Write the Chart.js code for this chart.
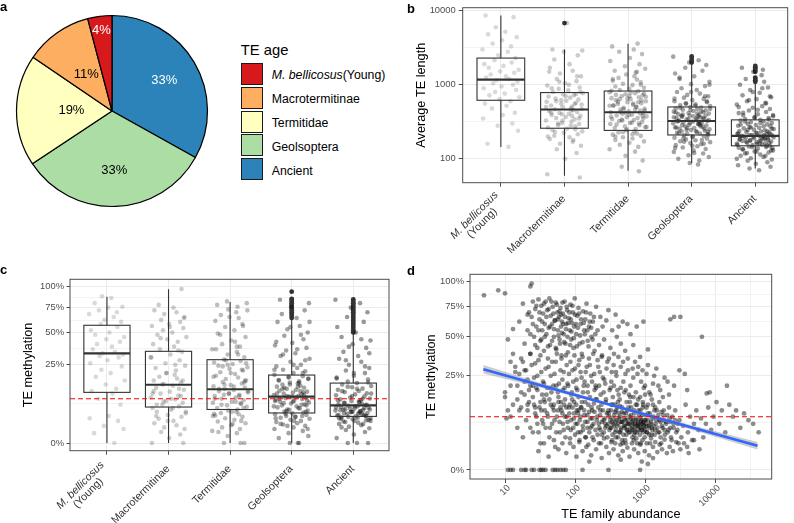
<!DOCTYPE html>
<html><head><meta charset="utf-8">
<script src="https://cdn.jsdelivr.net/npm/chart.js@4.4.0/dist/chart.umd.min.js"></script>
<style>
html,body{margin:0;padding:0;background:#fff;}
#wrap{position:relative;width:794px;height:523px;overflow:hidden;font-family:"Liberation Sans",Arial,Helvetica,sans-serif;background:#fff;}
canvas{position:absolute;}
.plab{position:absolute;font-weight:bold;font-size:13px;line-height:13px;color:#000;}
.lgtitle{position:absolute;left:240.7px;top:43px;font-size:14.8px;line-height:14.8px;color:#000;white-space:nowrap;}
.key{position:absolute;left:240.7px;width:20px;height:20px;border:1px solid #1a1a1a;}
.klab{position:absolute;left:271.7px;height:22px;line-height:22px;font-size:12.3px;color:#000;white-space:nowrap;}
</style></head>
<body><div id="wrap">
<canvas id="pie" width="224" height="222" style="left:0;top:0"></canvas>
<canvas id="cb" width="394" height="262" style="left:400px;top:0"></canvas>
<canvas id="cc" width="400" height="273" style="left:0;top:250px"></canvas>
<canvas id="cd" width="394" height="273" style="left:400px;top:250px"></canvas>
<div class="plab" style="left:0;top:-0.5px">a</div>
<div class="plab" style="left:407px;top:1.7px">b</div>
<div class="plab" style="left:0;top:263px">c</div>
<div class="plab" style="left:407px;top:264px">d</div>
<div id="legend"></div>
</div>
<script>
// ---------------- DATA ----------------
const categories = ['M. bellicosus (Young)', 'Macrotermitinae', 'Termitidae', 'Geolsoptera', 'Ancient'];
const categoryTickLabels = [['M. bellicosus', '(Young)'], 'Macrotermitinae', 'Termitidae', 'Geolsoptera', 'Ancient'];
const legendTitle = 'TE age';
const pieShares = [4.1, 11.4, 18.8, 32.6, 33.1];           // % per category (legend order)
const ageColors = ['#D7191C', '#FDAE61', '#FFFFBF', '#ABDDA4', '#2B83BA'];

// panel b: average TE length (log scale)
const lengthTicks = [100, 1000, 10000];
const lengthQ1 = [618, 259, 242, 210, 150];
const lengthMedian = [1175, 463, 426, 325, 204];
const lengthQ3 = [2296, 785, 824, 502, 336];
const lengthWhiskerLow = [145, 59, 69, 87, 74];
const lengthWhiskerHigh = [8650, 3006, 3590, 1993, 1072];
const lengthOutliers = [[], [6810], [], [2000, 2100, 2250, 2420], [1100, 1150, 1200, 1250, 1500, 1580, 1650, 1720, 1800]];
const lengthYoung = [145, 160, 240, 280, 300, 350, 390, 420, 480, 520, 560, 600, 640, 680, 720, 760, 800, 850, 900, 950, 1000, 1050, 1100, 1150, 1200, 1250, 1300, 1380, 1450, 1520, 1600, 1700, 1800, 1900, 2000, 2150, 2300, 2500, 2800, 3000, 3300, 3600, 4000, 4400, 4800, 5200, 6000, 8200, 8650];
const lengthMacro = [56, 62, 100, 120, 135, 150, 160, 170, 185, 195, 205, 215, 225, 235, 245, 255, 265, 275, 285, 295, 305, 318, 330, 342, 355, 368, 380, 392, 405, 418, 430, 442, 455, 468, 480, 495, 510, 525, 540, 555, 570, 590, 610, 630, 650, 670, 695, 720, 745, 770, 800, 840, 880, 920, 980, 1050, 1120, 1200, 1300, 1420, 1550, 1700, 1900, 2200, 2500, 2800, 2900, 3000, 6810,
  200, 250, 300, 350, 400, 450, 500, 550, 600, 700, 800, 900, 1000, 1100, 1300, 1500, 180, 230, 280, 330, 380, 420, 470, 620, 750];
const lengthTermitidae = [68, 78, 95, 110, 125, 135, 145, 155, 165, 172, 180, 188, 196, 204, 212, 220, 228, 236, 244, 252, 260, 268, 276, 285, 295, 305, 315, 325, 335, 345, 355, 365, 375, 385, 395, 405, 415, 425, 438, 450, 462, 475, 490, 505, 520, 535, 550, 565, 580, 600, 620, 640, 660, 680, 700, 720, 745, 770, 795, 820, 850, 880, 910, 950, 990, 1030, 1080, 1130, 1180, 1240, 1300, 1380, 1460, 1550, 1650, 1780, 1900, 2100, 2300, 2600, 2800, 3000, 3300, 3600,
  250, 270, 290, 310, 330, 350, 370, 390, 410, 430, 450, 470, 500, 530, 560, 590, 620, 650, 690, 730, 780, 830, 300, 340, 380, 420, 460, 520, 580, 640, 700, 760, 200, 215, 230, 1000, 1200, 1500];
const lengthGeolsoptera = [84, 88, 95, 100, 106, 112, 118, 124, 130, 136, 142, 148, 153, 158, 163, 168, 173, 178, 183, 188, 193, 198, 203, 208, 212, 216, 220, 225, 230, 235, 240, 245, 250, 255, 260, 265, 270, 276, 282, 288, 294, 300, 306, 312, 318, 324, 330, 336, 342, 348, 355, 362, 369, 376, 384, 392, 400, 408, 416, 425, 434, 443, 452, 462, 472, 482, 492, 502, 515, 530, 545, 560, 580, 600, 620, 645, 670, 700, 730, 760, 800, 850, 900, 960, 1020, 1100, 1200, 1300, 1420, 1550, 1700, 1850, 2000, 2150, 2400,
  180, 190, 200, 215, 225, 235, 245, 255, 265, 275, 285, 295, 305, 315, 325, 335, 345, 355, 365, 375, 385, 395, 410, 425, 440, 455, 470, 490, 520, 560, 600, 650, 150, 160, 170, 230, 260, 290, 320, 350, 380, 700, 800, 1000, 1250, 120, 140];
const lengthAncient = [70, 74, 78, 82, 86, 90, 94, 98, 102, 106, 110, 114, 118, 122, 126, 130, 134, 138, 141, 144, 147, 150, 153, 156, 159, 162, 165, 168, 171, 174, 177, 180, 183, 186, 189, 192, 195, 198, 201, 204, 207, 210, 214, 218, 222, 226, 230, 234, 238, 243, 248, 253, 258, 263, 268, 274, 280, 286, 292, 298, 305, 312, 320, 328, 336, 345, 355, 365, 375, 388, 400, 415, 430, 450, 470, 490, 515, 540, 570, 600, 640, 680, 720, 780, 850, 920, 1000, 1100, 1200, 1350, 1500, 1600, 1700,
  140, 145, 150, 155, 160, 165, 170, 175, 180, 185, 190, 195, 200, 205, 210, 215, 220, 225, 235, 245, 255, 265, 275, 290, 305, 320, 340, 360, 390, 420, 460, 500, 560, 620, 700, 800, 900, 100, 110, 120, 125, 130, 135, 160, 175, 190, 200, 210];

// panel c: TE methylation (fraction, sqrt scale)
const methTicks = [0, 0.25, 0.5, 0.75, 1];
const methQ1 = [0.105, 0.053, 0.046, 0.037, 0.029];
const methMedian = [0.329, 0.139, 0.118, 0.088, 0.058];
const methQ3 = [0.567, 0.344, 0.284, 0.189, 0.147];
const methWhiskerLow = [0, 0, 0, 0, 0];
const methWhiskerHigh = [0.876, 0.967, 0.814, 0.637, 0.493];
const methOutliers = [[], [], [], [0.64, 0.66, 0.68, 0.7, 0.72, 0.74, 0.76, 0.78, 0.8, 0.82, 0.84, 0.85, 0.937], [0.5, 0.52, 0.54, 0.56, 0.58, 0.6, 0.62, 0.64, 0.66, 0.68, 0.7, 0.72, 0.74, 0.76, 0.78, 0.8, 0.82, 0.845]];
const methThreshold = 0.08;
const methYoung = [0, 0.004, 0.008, 0.012, 0.02, 0.025, 0.03, 0.06, 0.08, 0.1, 0.11, 0.12, 0.14, 0.16, 0.18, 0.2, 0.22, 0.24, 0.26, 0.28, 0.3, 0.31, 0.32, 0.33, 0.34, 0.36, 0.38, 0.4, 0.42, 0.44, 0.46, 0.48, 0.5, 0.52, 0.55, 0.58, 0.6, 0.62, 0.65, 0.68, 0.7, 0.72, 0.75, 0.76, 0.8, 0.86, 0.88];
const methMacro = [0, 0, 0.001, 0.003, 0.005, 0.008, 0.01, 0.013, 0.016, 0.02, 0.024, 0.028, 0.032, 0.036, 0.04, 0.045, 0.05, 0.055, 0.06, 0.066, 0.072, 0.078, 0.085, 0.092, 0.1, 0.108, 0.116, 0.125, 0.134, 0.142, 0.15, 0.16, 0.17, 0.18, 0.19, 0.2, 0.215, 0.23, 0.245, 0.26, 0.28, 0.3, 0.32, 0.34, 0.36, 0.38, 0.4, 0.42, 0.44, 0.46, 0.48, 0.5, 0.52, 0.54, 0.56, 0.58, 0.6, 0.62, 0.65, 0.68, 0.7, 0.72, 0.75, 0.78, 0.97,
  0.02, 0.04, 0.06, 0.08, 0.1, 0.12, 0.14, 0.16, 0.2, 0.25, 0.3, 0.35, 0.45, 0.55, 0.64, 0.03, 0.05, 0.07, 0.09, 0.11];
const methTermitidae = [0, 0, 0, 0.002, 0.004, 0.006, 0.008, 0.01, 0.013, 0.016, 0.019, 0.022, 0.025, 0.028, 0.031, 0.034, 0.037, 0.04, 0.043, 0.046, 0.05, 0.054, 0.058, 0.062, 0.066, 0.07, 0.075, 0.08, 0.085, 0.09, 0.095, 0.1, 0.105, 0.11, 0.115, 0.12, 0.126, 0.132, 0.138, 0.145, 0.152, 0.16, 0.168, 0.176, 0.185, 0.195, 0.205, 0.215, 0.225, 0.235, 0.245, 0.255, 0.265, 0.275, 0.285, 0.3, 0.32, 0.34, 0.36, 0.38, 0.4, 0.43, 0.46, 0.49, 0.52, 0.55, 0.58, 0.61, 0.64, 0.67, 0.7, 0.73, 0.76, 0.78, 0.8, 0.82,
  0.02, 0.03, 0.04, 0.05, 0.06, 0.07, 0.08, 0.09, 0.1, 0.11, 0.12, 0.13, 0.14, 0.16, 0.18, 0.2, 0.22, 0.24, 0.26, 0.28, 0.32, 0.36, 0.42, 0.48, 0.56, 0.65, 0.72, 0.005, 0.015, 0.035, 0.065, 0.095, 0.15, 0.25, 0.38];
const methGeolsoptera = [0, 0, 0, 0.001, 0.002, 0.004, 0.006, 0.008, 0.01, 0.012, 0.014, 0.016, 0.018, 0.02, 0.022, 0.024, 0.026, 0.028, 0.03, 0.032, 0.034, 0.036, 0.038, 0.04, 0.043, 0.046, 0.049, 0.052, 0.055, 0.058, 0.061, 0.064, 0.067, 0.07, 0.073, 0.076, 0.079, 0.082, 0.085, 0.088, 0.091, 0.094, 0.097, 0.1, 0.104, 0.108, 0.112, 0.116, 0.12, 0.125, 0.13, 0.135, 0.14, 0.145, 0.15, 0.156, 0.162, 0.168, 0.175, 0.182, 0.19, 0.2, 0.21, 0.22, 0.23, 0.24, 0.25, 0.27, 0.29, 0.31, 0.33, 0.35, 0.37, 0.39, 0.41, 0.44, 0.47, 0.5, 0.53, 0.56, 0.6, 0.64, 0.68, 0.72, 0.76, 0.8, 0.84,
  0.02, 0.025, 0.03, 0.035, 0.04, 0.045, 0.05, 0.055, 0.06, 0.065, 0.07, 0.075, 0.08, 0.085, 0.09, 0.095, 0.1, 0.11, 0.12, 0.13, 0.14, 0.15, 0.16, 0.17, 0.18, 0.2, 0.22, 0.25, 0.28, 0.32, 0.36, 0.42, 0.48, 0.55, 0.6, 0.015, 0.028, 0.042, 0.058, 0.072, 0.088, 0.105, 0.125, 0.008, 0.012];
const methAncient = [0, 0, 0, 0.001, 0.003, 0.005, 0.007, 0.009, 0.011, 0.013, 0.015, 0.017, 0.019, 0.021, 0.023, 0.025, 0.027, 0.029, 0.031, 0.033, 0.035, 0.037, 0.039, 0.041, 0.043, 0.045, 0.047, 0.049, 0.051, 0.053, 0.055, 0.057, 0.059, 0.061, 0.063, 0.066, 0.069, 0.072, 0.075, 0.078, 0.081, 0.085, 0.089, 0.093, 0.097, 0.101, 0.106, 0.111, 0.116, 0.121, 0.127, 0.133, 0.14, 0.147, 0.155, 0.165, 0.175, 0.185, 0.2, 0.215, 0.23, 0.25, 0.27, 0.29, 0.31, 0.34, 0.37, 0.4, 0.43, 0.46, 0.5, 0.55, 0.6, 0.65, 0.7, 0.75, 0.8, 0.84,
  0.015, 0.018, 0.02, 0.022, 0.024, 0.026, 0.028, 0.03, 0.032, 0.034, 0.036, 0.038, 0.04, 0.042, 0.044, 0.046, 0.048, 0.05, 0.052, 0.055, 0.06, 0.065, 0.07, 0.075, 0.08, 0.09, 0.1, 0.11, 0.12, 0.13, 0.15, 0.17, 0.2, 0.24, 0.28, 0.33, 0.38, 0.44, 0.025, 0.035, 0.045, 0.03, 0.04, 0.02, 0.01];

// panel d: TE family abundance vs methylation [abundance, methylation]
const abundanceTicks = [10, 100, 1000, 10000];
const abundanceMethylation = [
[5,0.86],[8,0.91],[10,0.88],[23,0.95],[24,0.98],
[11,0.48],[12,0.33],[13,0.56],[12,0.2],[14,0.27],[11,0.1],[10,0.17],[13,0.38],[10,0.15],[10.5,0.075],
[11,0],[12,0],[13,0],[17,0],[19,0],[20,0],[24,0],[26,0],[31,0],[33,0],[35,0],[38,0],[48,0],[52,0],[56,0],[62,0],[68,0],[74,0],[128,0],[300,0],[850,0],[1100,0.001],
[16,0.62],[18,0.78],[19,0.45],[21,0.55],[22,0.7],[23,0.38],[24,0.66],[25,0.8],
[26,0.5],[27,0.73],[28,0.58],[29,0.42],[30,0.82],[31,0.64],[32,0.47],[33,0.76],[34,0.55],[35,0.69],[36,0.4],[37,0.6],[38,0.8],[39,0.52],[40,0.72],
[42,0.57],[43,0.83],[44,0.44],[45,0.67],[47,0.6],[48,0.75],[50,0.5],[51,0.63],[53,0.79],[54,0.41],[56,0.7],[57,0.55],[59,0.66],[60,0.48],[62,0.74],[63,0.58],[64,0.37],[65,0.62],
[67,0.69],[69,0.52],[71,0.8],[73,0.45],[75,0.6],[77,0.72],[79,0.39],[81,0.65],[84,0.55],[86,0.77],[88,0.48],[90,0.61],[93,0.7],[95,0.42],[97,0.58],[99,0.83],
[104,0.52],[108,0.67],[112,0.74],[116,0.45],[120,0.6],[125,0.38],[130,0.71],[135,0.55],[140,0.64],[146,0.78],[152,0.47],[158,0.58],
[165,0.69],[172,0.5],[180,0.62],[190,0.4],[200,0.75],[210,0.55],[220,0.44],[230,0.66],[240,0.36],[248,0.58],
[260,0.48],[280,0.63],[300,0.72],[320,0.42],[340,0.55],[360,0.38],[380,0.68],[395,0.5],
[420,0.58],[450,0.45],[480,0.62],[520,0.4],[560,0.6],[620,0.52],[680,0.44],
[760,0.58],[850,0.36],[950,0.62],[1100,0.41],[2300,0.64],[2600,0.66],[3200,0.66],[6500,0.5],
[21,0.68],[23,0.52],[25,0.6],[27,0.44],[28,0.76],[30,0.55],[31,0.7],[33,0.48],[34,0.62],[36,0.78],[37,0.5],[39,0.66],[41,0.43],[42,0.73],[44,0.58],[46,0.8],[47,0.47],[49,0.69],[50,0.56],[52,0.63],[53,0.42],[55,0.77],[57,0.64],[58,0.51],[60,0.71],[61,0.45],[63,0.68],[65,0.53],[66,0.79],[68,0.6],[70,0.46],[72,0.66],[74,0.56],[76,0.75],[78,0.5],[80,0.61],[83,0.7],[85,0.44],[87,0.64],[89,0.54],[92,0.76],[96,0.49],[100,0.68],[103,0.6],[106,0.43],[110,0.57],[114,0.69],[118,0.51],[122,0.64],[128,0.46],[133,0.61],[138,0.52],[144,0.7],[150,0.55],[156,0.43],[162,0.62],[170,0.57],[178,0.48],[186,0.66],[195,0.52],
[14,0.3],[15,0.2],[16,0.26],[17,0.17],[18,0.33],[19,0.22],[20,0.28],[22,0.18],[24,0.31],[26,0.24],[28,0.19],[30,0.34],[33,0.27],[36,0.21],[39,0.16],[42,0.3],[45,0.25],[49,0.2],[53,0.33],[57,0.17],[62,0.28],[66,0.23],[71,0.19],[76,0.31],[82,0.26],[88,0.16],[94,0.22],[100,0.29],[108,0.18],[115,0.34],[124,0.24],[133,0.2],[142,0.27],[152,0.17],[163,0.31],[175,0.22],[188,0.26],[200,0.19],[215,0.3],[232,0.16],[250,0.24],[270,0.21],[290,0.33],[312,0.18],[335,0.27],[360,0.2],[390,0.25],[420,0.16],[450,0.3],[490,0.22],[530,0.18],[570,0.28],[620,0.2],[680,0.24],[740,0.17],[800,0.3],[880,0.22],[960,0.19],[1050,0.26],[1150,0.17],[1300,0.21],[1450,0.29],[1650,0.18],[1900,0.24],[2200,0.16],[2600,0.2],[3100,0.28],[3700,0.26],[4000,0.18],[7600,0.165],[8400,0.17],[14800,0.2],
[17,0.35],[19,0.28],[21,0.23],[23,0.38],[25,0.2],[27,0.32],[29,0.25],[32,0.37],[35,0.22],[38,0.29],[41,0.35],[44,0.19],[47,0.33],[51,0.26],[55,0.38],[59,0.21],[64,0.35],[69,0.27],[74,0.37],[80,0.2],[86,0.33],[92,0.28],[98,0.37],[105,0.23],[112,0.31],[120,0.27],[128,0.36],[137,0.22],[147,0.3],[158,0.35],[170,0.25],[182,0.38],[196,0.2],[210,0.34],[226,0.27],[244,0.37],[262,0.23],[282,0.29],[305,0.35],[330,0.22],[356,0.31],[385,0.27],[416,0.36],[450,0.19],[486,0.33],[525,0.26],[568,0.35],[615,0.15],[665,0.29],[720,0.33],[780,0.26],[850,0.15],[920,0.28],[1000,0.2],[1100,0.31],[1200,0.16],[1350,0.25],[1550,0.2],[1800,0.15],[2100,0.22],
[15,0.14],[17,0.11],[19,0.16],[21,0.12],[23,0.2],[25,0.15],[27,0.11],[29,0.18],[32,0.13],[34,0.16],[37,0.1],[40,0.19],[43,0.14],[46,0.17],[50,0.12],[54,0.2],[58,0.15],[62,0.11],[67,0.18],[72,0.14],[78,0.21],[84,0.12],[90,0.17],[97,0.13],[104,0.19],[112,0.15],[121,0.11],[130,0.17],[140,0.13],[151,0.2],[163,0.15],[176,0.1],[190,0.18],[205,0.14],[221,0.2],[238,0.12],[257,0.17],[277,0.14],[299,0.1],[322,0.19],[347,0.15],[374,0.12],[403,0.18],[435,0.14],[469,0.11],[506,0.17],[546,0.13],[589,0.16],[635,0.11],[685,0.15],[739,0.12],[797,0.14],[860,0.1],[928,0.13],[1000,0.16],[1100,0.12],[1250,0.14],[1400,0.11],[1600,0.13],[1850,0.1],
[12,0.08],[13,0.12],[15,0.05],[16,0.1],[18,0.03],[20,0.07],[22,0.13],[25,0.04],[27,0.09],[29,0.06],
[31,0.11],[32,0.02],[34,0.07],[36,0.14],[38,0.05],[40,0.09],[43,0.03],[45,0.12],[47,0.06],[50,0.1],[52,0.015],[55,0.08],[58,0.13],[61,0.04],[64,0.1],[67,0.06],[70,0.12],[73,0.03],[76,0.08],[79,0.05],
[21,0.1],[23,0.05],[26,0.12],[28,0.08],[30,0.04],[33,0.1],[35,0.06],[37,0.13],[41,0.08],[44,0.05],[48,0.11],[51,0.07],[54,0.04],[57,0.1],[60,0.065],[63,0.13],[66,0.09],[69,0.045],[72,0.08],[75,0.11],[78,0.065],[83,0.09],[87,0.045],[92,0.11],[96,0.075],
[82,0.11],[85,0.02],[88,0.07],[91,0.14],[94,0.05],[97,0.09],[100,0.035],[104,0.12],[108,0.06],[112,0.1],[116,0.025],[120,0.08],[125,0.13],[130,0.045],[135,0.1],[140,0.065],[145,0.015],[150,0.085],[155,0.12],[160,0.04],[166,0.075],[172,0.11],[178,0.03],[184,0.06],[190,0.095],[196,0.14],[150,0.05],[120,0.04],[175,0.055],[110,0.09],
[102,0.06],[106,0.1],[111,0.04],[117,0.07],[123,0.11],[129,0.055],[136,0.085],[143,0.03],[151,0.065],[159,0.095],[167,0.05],[176,0.075],[186,0.125],[196,0.045],[207,0.08],[218,0.06],[230,0.1],[243,0.035],[256,0.07],[270,0.05],[285,0.09],[300,0.06],
[205,0.07],[210,0.035],[215,0.11],[222,0.05],[228,0.085],[235,0.02],[242,0.065],[250,0.1],[258,0.04],[266,0.075],[274,0.13],[282,0.055],[290,0.03],[300,0.09],[310,0.045],[320,0.07],[330,0.12],[340,0.025],[350,0.06],[362,0.085],[374,0.04],[386,0.1],[398,0.055],[410,0.03],[424,0.075],[438,0.115],[452,0.045],[466,0.065],[480,0.02],[495,0.09],[510,0.05],[526,0.07],[542,0.035],[558,0.1],[575,0.06],[590,0.04],[600,0.08],[230,0.045],[270,0.06],[330,0.05],[380,0.065],[440,0.04],[500,0.055],[560,0.045],[420,0.09],
[310,0.08],[318,0.05],[326,0.1],[335,0.065],[344,0.035],[353,0.075],[363,0.055],[373,0.095],[383,0.045],[394,0.07],[405,0.11],[416,0.06],[428,0.04],[440,0.08],[452,0.05],[465,0.095],[478,0.065],[491,0.035],[505,0.075],[519,0.055],[534,0.09],[549,0.045],[564,0.07],[580,0.11],[596,0.06],[613,0.04],[630,0.085],[648,0.055],[666,0.07],[685,0.045],[704,0.09],[724,0.06],[744,0.075],[765,0.04],[787,0.065],[809,0.1],[832,0.055],[855,0.075],[879,0.045],[904,0.085],[929,0.06],[955,0.04],[982,0.07],[345,0.12],[410,0.13],[470,0.025],[530,0.02],[610,0.13],[690,0.025],[770,0.12],[860,0.02],[940,0.12],[375,0.02],[450,0.065],[560,0.06],[650,0.065],[720,0.05],[800,0.06],[880,0.07],[960,0.055],
[620,0.05],[640,0.075],[660,0.03],[680,0.06],[700,0.1],[720,0.04],[745,0.07],[770,0.02],[795,0.055],[820,0.085],[845,0.035],[870,0.065],[900,0.045],[930,0.11],[960,0.05],[990,0.03],[1020,0.07],[1060,0.04],[1100,0.09],[1140,0.055],[1180,0.02],[1220,0.065],[1270,0.045],[1320,0.08],[1370,0.035],[1420,0.06],[1480,0.1],[1540,0.04],[1600,0.07],[1670,0.03],[1740,0.055],[1820,0.085],[1900,0.045],[1980,0.065],[650,0.045],[750,0.055],[850,0.05],[950,0.065],[1050,0.055],[1150,0.035],[1250,0.05],[700,0.035],[800,0.045],[900,0.06],[1000,0.045],
[1010,0.085],[1040,0.06],[1070,0.04],[1100,0.07],[1130,0.05],[1170,0.09],[1200,0.06],[1240,0.035],[1280,0.075],[1320,0.055],[1360,0.1],[1400,0.045],[1450,0.07],[1500,0.05],[1550,0.085],[1600,0.04],[1660,0.065],[1720,0.095],[1780,0.05],[1850,0.07],[1920,0.035],[2000,0.06],[2080,0.085],[2160,0.045],[2250,0.065],[2350,0.03],[2450,0.08],[2560,0.05],[2680,0.07],[2800,0.04],[2930,0.06],[1050,0.11],[1300,0.12],[1700,0.02],[2200,0.11],
[30,0.01],[36,0.02],[42,0.005],[50,0.025],[58,0.012],[66,0.02],[75,0.008],[85,0.028],[95,0.015],[105,0.005],[115,0.022],[128,0.01],[140,0.03],[155,0.018],[170,0.006],[185,0.025],[200,0.012],[220,0.02],[240,0.004],[260,0.028],[280,0.015],[305,0.008],[330,0.022],[355,0.012],[385,0.03],[415,0.006],[445,0.018],[480,0.01],[520,0.025],[560,0.014],[600,0.005],[650,0.02],[700,0.012],[750,0.028],[800,0.008],[860,0.018],[920,0.025],[990,0.01],[1060,0.02],[1140,0.006],[1220,0.028],[1300,0.015],[1400,0.022],[1500,0.009],[1620,0.018],[1750,0.012],[1900,0.026],[2050,0.008],[2250,0.015],[2500,0.01],[2800,0.022],[3200,0.012],[3600,0.02],[4200,0.008],[5000,0.025],[6000,0.012],[160,0.002],[450,0.003],[900,0.002],[1300,0.004],
[2100,0.04],[2250,0.075],[2400,0.025],[2550,0.06],[2700,0.1],[2900,0.045],[3100,0.07],[3300,0.03],[3500,0.055],[3800,0.12],[4100,0.04],[4400,0.08],[4700,0.025],[5000,0.06],[5400,0.1],[5800,0.045],[6300,0.075],[6800,0.03],[7400,0.06],[8000,0.11],[8800,0.045],[9500,0.08],[2300,0.05],[3000,0.02],[4000,0.015],
[10500,0.13],[11500,0.06],[12500,0.1],[14000,0.04],[16000,0.12],[18000,0.08],[20000,0.1],[23000,0.05],[26000,0.09],[30000,0.07],[35000,0.06],[42000,0.04]
];
const trendAbundance = [4.9, 30, 300, 3000, 40500];
const trendMethylation = [0.286, 0.205, 0.122, 0.0603, 0.0164];
const trendLower = [0.263, 0.194, 0.116, 0.055, 0.0117];
const trendUpper = [0.310, 0.217, 0.127, 0.0658, 0.0219];

// hand-typed horizontal jitter (category units)
const jitterOffsets = [0.12,-0.21,0.27,-0.05,0.18,-0.28,0.03,0.22,-0.14,0.09,-0.25,0.15,-0.02,0.29,-0.18,0.06,-0.09,0.24,-0.27,0.01,0.19,-0.12,0.26,-0.07,0.13,-0.23,0.08,-0.16,0.21,-0.01,0.28,-0.19,0.04,-0.26,0.17,-0.1,0.23,-0.04,0.11,-0.29,0.16,-0.13,0.02,0.25,-0.2,0.07,-0.08,0.2,-0.24,0.14,-0.15,0.1,-0.03];

// ---------------- RENDERING ----------------
const FONT = '"Liberation Sans", Arial, Helvetica, sans-serif';
Chart.defaults.font.family = FONT;
Chart.defaults.color = '#4D4D4D';
const GRID_MAJOR = '#EBEBEB', GRID_MINOR = '#F3F3F3';

// legend (HTML)
(function(){
  const lg = document.getElementById('legend');
  const t = document.createElement('div'); t.className = 'lgtitle'; t.textContent = legendTitle; lg.appendChild(t);
  const tops = [62.7, 86.6, 110.5, 134.4, 158.3];
  categories.forEach((c, i) => {
    const k = document.createElement('div'); k.className = 'key'; k.style.top = tops[i] + 'px'; k.style.background = ageColors[i]; lg.appendChild(k);
    const l = document.createElement('div'); l.className = 'klab'; l.style.top = (tops[i] + 1.5) + 'px';
    if (i === 0) { l.innerHTML = '<i>M. bellicosus</i>(Young)'; } else { l.textContent = c; }
    lg.appendChild(l);
  });
})();

// --- pie ---
const pieData = pieShares.slice().reverse();
const pieColors = ageColors.slice().reverse();
const pieLabelRadius = [0.635, 0.625, 0.425, 0.465, 0.855];
const pieTextColor = ['#fff', '#000', '#000', '#000', '#fff'];
new Chart(document.getElementById('pie'), {
  type: 'pie',
  data: { labels: categories.slice().reverse(), datasets: [{ data: pieData, backgroundColor: pieColors, borderColor: '#000', borderWidth: 1.2 }] },
  options: { responsive: false, animation: false, events: [], devicePixelRatio: 1, radius: 95.5, layout: { padding: 0 },
    plugins: { legend: { display: false }, tooltip: { enabled: false } } },
  plugins: [{
    id: 'pieLabels',
    afterDatasetsDraw(chart) {
      const ctx = chart.ctx; const meta = chart.getDatasetMeta(0);
      ctx.save(); ctx.font = '13px ' + FONT; ctx.textAlign = 'center'; ctx.textBaseline = 'middle';
      meta.data.forEach((arc, i) => {
        const mid = (arc.startAngle + arc.endAngle) / 2; const r = arc.outerRadius * pieLabelRadius[i];
        ctx.fillStyle = pieTextColor[i];
        ctx.fillText(Math.round(pieData[i]) + '%', arc.x + Math.cos(mid) * r, arc.y + Math.sin(mid) * r);
      });
      ctx.restore();
    }
  }]
});

// --- shared helpers ---
function jitterPoints(values, catIndex, tf) {
  return values.map((v, k) => ({ x: catIndex + jitterOffsets[(k + 17 * catIndex) % jitterOffsets.length], y: tf(v) }));
}
function borderPlugin() {
  return { id: 'panelBorder', afterDatasetsDraw(chart) {
    const ca = chart.chartArea, ctx = chart.ctx; ctx.save(); ctx.strokeStyle = '#4D4D4D'; ctx.lineWidth = 1;
    ctx.strokeRect(ca.left, ca.top, ca.right - ca.left, ca.bottom - ca.top); ctx.restore(); } };
}
function boxPlugin(q1, med, q3, lo, hi, tf) {
  return { id: 'boxes', afterDatasetsDraw(chart) {
    const ctx = chart.ctx, xs = chart.scales.x, ys = chart.scales.y; const hw = 0.375;
    const p = v => ys.getPixelForValue(tf(v));
    ctx.save(); ctx.strokeStyle = '#333333';
    for (let i = 0; i < q1.length; i++) {
      const xc = xs.getPixelForValue(i), xl = xs.getPixelForValue(i - hw), xr = xs.getPixelForValue(i + hw);
      ctx.lineWidth = 1.1;
      ctx.beginPath(); ctx.moveTo(xc, p(q3[i])); ctx.lineTo(xc, p(hi[i])); ctx.moveTo(xc, p(q1[i])); ctx.lineTo(xc, p(lo[i])); ctx.stroke();
      ctx.strokeRect(xl, p(q3[i]), xr - xl, p(q1[i]) - p(q3[i]));
      ctx.lineWidth = 2.1;
      ctx.beginPath(); ctx.moveTo(xl, p(med[i])); ctx.lineTo(xr, p(med[i])); ctx.stroke();
    }
    ctx.restore(); } };
}
function thresholdPlugin(value) {
  return { id: 'threshold', afterDatasetsDraw(chart) {
    const ctx = chart.ctx, ca = chart.chartArea, y = chart.scales.y.getPixelForValue(Math.sqrt(value));
    ctx.save(); ctx.strokeStyle = '#FF0000'; ctx.lineWidth = 1.1; ctx.setLineDash([5, 3]);
    ctx.beginPath(); ctx.moveTo(ca.left, y); ctx.lineTo(ca.right, y); ctx.stroke(); ctx.restore(); } };
}
function xLabelPlugin(labels, values, italicFirst, size, dx, dy, color, lineH) {
  return { id: 'xLabels', afterDraw(chart) {
    const ctx = chart.ctx, xs = chart.scales.x, ca = chart.chartArea;
    ctx.save(); ctx.fillStyle = color; ctx.textBaseline = 'middle';
    labels.forEach((lab, i) => {
      const lines = Array.isArray(lab) ? lab : [lab];
      const px = xs.getPixelForValue(values[i]) + dx, py = ca.bottom + dy;
      ctx.save(); ctx.translate(px, py); ctx.rotate(-Math.PI / 4);
      const fonts = lines.map((ln, j) => ((italicFirst && i === 0 && j === 0) ? 'italic ' : '') + size + 'px ' + FONT);
      ctx.font = fonts[0]; const w0 = ctx.measureText(lines[0]).width;
      lines.forEach((ln, j) => {
        ctx.font = fonts[j]; const yy = (j - (lines.length - 1) / 2) * lineH;
        if (j === 0) { ctx.textAlign = 'right'; ctx.fillText(ln, 0, yy); }
        else { ctx.textAlign = 'center'; ctx.fillText(ln, -w0 / 2, yy); }
      });
      ctx.restore();
    });
    ctx.restore(); } };
}
const gridColor = c => (c.tick && c.tick.minor) ? GRID_MINOR : GRID_MAJOR;
const tickColor = c => (c.tick && c.tick.minor) ? 'rgba(0,0,0,0)' : '#4D4D4D';
const catIdx = categories.map((c, i) => i);
const ident = v => v;
const sqrtT = v => Math.sqrt(v);

// --- panel b ---
const lengthSeries = [lengthYoung, lengthMacro, lengthTermitidae, lengthGeolsoptera, lengthAncient];
const alphaB = [0.15, 0.2, 0.26, 0.36, 0.4];
const dsB = lengthSeries.map((vals, i) => ({ data: jitterPoints(vals, i, ident), backgroundColor: 'rgba(0,0,0,' + alphaB[i] + ')', borderWidth: 0, pointRadius: 2.3 }));
dsB.push({ data: lengthOutliers.flatMap((arr, i) => arr.map(v => ({ x: i, y: v }))), backgroundColor: '#333333', borderWidth: 0, pointRadius: 2.4 });
new Chart(document.getElementById('cb'), {
  type: 'scatter',
  data: { datasets: dsB },
  options: { responsive: false, animation: false, events: [], devicePixelRatio: 1,
    layout: { padding: { left: 0, right: 6.3, top: 7.3, bottom: 0 } },
    plugins: { legend: { display: false }, tooltip: { enabled: false } },
    scales: {
      x: { type: 'linear', min: -0.6, max: 4.51, bounds: 'data',
        afterBuildTicks: s => { s.ticks = catIdx.map(v => ({ value: v })); },
        afterFit: s => { s.height = 262 - 182.7; },
        ticks: { display: false }, border: { display: false },
        grid: { color: GRID_MAJOR, tickColor: '#4D4D4D', tickLength: 4, lineWidth: 1 } },
      y: { type: 'logarithmic', min: 47.6, max: 11000, bounds: 'data',
        afterBuildTicks: s => { s.ticks = [{ value: 100 }, { value: 316.23, minor: true }, { value: 1000 }, { value: 3162.3, minor: true }, { value: 10000 }]; },
        afterFit: s => { s.width = 62.7; },
        ticks: { autoSkip: false, padding: 3, font: { size: 9.4, lineHeight: 1 }, color: '#4D4D4D',
          callback: (v, i, t) => t[i].minor ? '' : (lengthTicks.includes(v) ? String(v) : '') },
        border: { display: false },
        grid: { color: gridColor, tickColor: tickColor, tickLength: 4, lineWidth: 1 },
        title: { display: true, text: 'Average TE length', color: '#000', font: { size: 12.7 }, padding: { top: 13.7, bottom: 0 } } }
    } },
  plugins: [boxPlugin(lengthQ1, lengthMedian, lengthQ3, lengthWhiskerLow, lengthWhiskerHigh, ident), borderPlugin(),
    xLabelPlugin(categoryTickLabels, catIdx, true, 10.8, -0.5, 14.5, '#333333', 11)]
});

// --- panel c ---
const methSeries = [methYoung, methMacro, methTermitidae, methGeolsoptera, methAncient];
const alphaC = [0.15, 0.2, 0.26, 0.36, 0.4];
const dsC = methSeries.map((vals, i) => ({ data: jitterPoints(vals, i, sqrtT), backgroundColor: 'rgba(0,0,0,' + alphaC[i] + ')', borderWidth: 0, pointRadius: 2.3 }));
dsC.push({ data: methOutliers.flatMap((arr, i) => arr.map(v => ({ x: i, y: Math.sqrt(v) }))), backgroundColor: '#333333', borderWidth: 0, pointRadius: 2.4 });
function sqrtTicks() {
  const maj = methTicks.map(v => Math.sqrt(v));
  const out = [];
  maj.forEach((v, i) => { out.push({ value: v, label: Math.round(methTicks[i] * 100) + '%' }); if (i < maj.length - 1) out.push({ value: (v + maj[i + 1]) / 2, minor: true, label: '' }); });
  return out;
}
new Chart(document.getElementById('cc'), {
  type: 'scatter',
  data: { datasets: dsC },
  options: { responsive: false, animation: false, events: [], devicePixelRatio: 1,
    layout: { padding: { left: 0, right: 11, top: 29.3, bottom: 0 } },
    plugins: { legend: { display: false }, tooltip: { enabled: false } },
    scales: {
      x: { type: 'linear', min: -0.6, max: 4.58, bounds: 'data',
        afterBuildTicks: s => { s.ticks = catIdx.map(v => ({ value: v })); },
        afterFit: s => { s.height = 273 - 200.7; },
        ticks: { display: false }, border: { display: false },
        grid: { color: GRID_MAJOR, tickColor: '#4D4D4D', tickLength: 4, lineWidth: 1 } },
      y: { type: 'linear', min: -0.049, max: 1.047, bounds: 'data',
        afterBuildTicks: s => { s.ticks = sqrtTicks(); },
        afterFit: s => { s.width = 70; },
        ticks: { autoSkip: false, padding: 2.5, font: { size: 9.4, lineHeight: 1 }, color: '#4D4D4D', callback: (v, i, t) => t[i].label },
        border: { display: false },
        grid: { color: gridColor, tickColor: tickColor, tickLength: 3.5, lineWidth: 1 },
        title: { display: true, text: 'TE methylation', color: '#000', font: { size: 12.7 }, padding: { top: 20.7, bottom: 0 } } }
    } },
  plugins: [boxPlugin(methQ1, methMedian, methQ3, methWhiskerLow, methWhiskerHigh, sqrtT), thresholdPlugin(methThreshold), borderPlugin(),
    xLabelPlugin(categoryTickLabels, catIdx, true, 10.8, -0.5, 16.5, '#333333', 11)]
});

// --- panel d ---
const toXY = (xs, ys) => xs.map((x, i) => ({ x: x, y: Math.sqrt(ys[i]) }));
new Chart(document.getElementById('cd'), {
  type: 'scatter',
  data: { datasets: [
    { data: toXY(trendAbundance, trendMethylation), showLine: true, borderColor: '#3366FF', borderWidth: 2.6, pointRadius: 0, fill: false, order: 0 },
    { data: toXY(trendAbundance, trendLower), showLine: true, borderWidth: 0, borderColor: 'rgba(0,0,0,0)', pointRadius: 0, fill: false, order: 1 },
    { data: toXY(trendAbundance, trendUpper), showLine: true, borderWidth: 0, borderColor: 'rgba(0,0,0,0)', pointRadius: 0, fill: '-1', backgroundColor: 'rgba(153,153,153,0.5)', order: 1 },
    { data: abundanceMethylation.map(p => ({ x: p[0], y: Math.sqrt(p[1]) })), backgroundColor: 'rgba(0,0,0,0.45)', borderWidth: 0, pointRadius: 2.4, order: 3 }
  ] },
  options: { responsive: false, animation: false, events: [], devicePixelRatio: 1,
    layout: { padding: { left: 0, right: 22.3, top: 24.3, bottom: 0 } },
    plugins: { legend: { display: false }, tooltip: { enabled: false } },
    scales: {
      x: { type: 'logarithmic', min: 3.16, max: 64500, bounds: 'data',
        afterBuildTicks: s => { s.ticks = [{ value: 10 }, { value: 31.62, minor: true }, { value: 100 }, { value: 316.2, minor: true }, { value: 1000 }, { value: 3162, minor: true }, { value: 10000 }, { value: 31623, minor: true }]; },
        afterFit: s => { s.height = 44; },
        ticks: { display: false }, border: { display: false },
        grid: { color: gridColor, tickColor: tickColor, tickLength: 4, lineWidth: 1 },
        title: { display: true, text: 'TE family abundance', color: '#000', font: { size: 12.7 }, padding: { top: 0, bottom: 0.4 } } },
      y: { type: 'linear', min: -0.048, max: 1.039, bounds: 'data',
        afterBuildTicks: s => { s.ticks = sqrtTicks(); },
        afterFit: s => { s.width = 70; },
        ticks: { autoSkip: false, padding: 2.5, font: { size: 9.4, lineHeight: 1 }, color: '#4D4D4D', callback: (v, i, t) => t[i].label },
        border: { display: false },
        grid: { color: gridColor, tickColor: tickColor, tickLength: 3.5, lineWidth: 1 },
        title: { display: true, text: 'TE methylation', color: '#000', font: { size: 12.7 }, padding: { top: 24.1, bottom: 0 } } }
    } },
  plugins: [thresholdPlugin(methThreshold), borderPlugin(),
    xLabelPlugin(abundanceTicks.map(String), abundanceTicks, false, 9.4, 3.8, 7.6, '#4D4D4D', 10)]
});
</script>
</body></html>
